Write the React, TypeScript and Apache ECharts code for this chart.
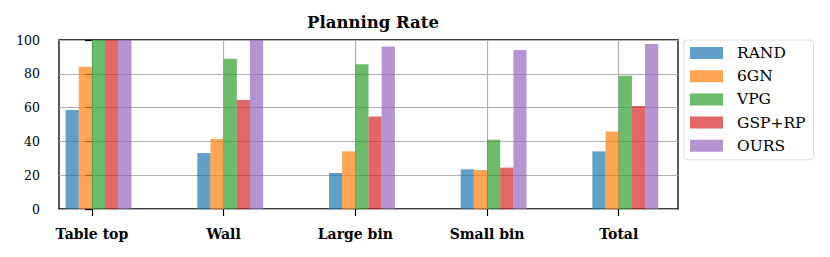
import React, { useEffect, useRef } from "react";
import * as echarts from "echarts";

const categories = ["Table top", "Wall", "Large bin", "Small bin", "Total"];
const methods = ["RAND", "6GN", "VPG", "GSP+RP", "OURS"];
const randValues = [58.6, 33.1, 21.3, 23.5, 34.1];
const sixGnValues = [84.2, 41.4, 34.1, 23.1, 45.8];
const vpgValues = [100, 88.9, 85.6, 41.0, 78.9];
const gspValues = [100, 64.5, 54.8, 24.5, 61.0];
const oursValues = [100, 100, 96.2, 94.1, 97.6];

const seriesValues = [randValues, sixGnValues, vpgValues, gspValues, oursValues];
const colors = ["#1f77b4", "#ff7f0e", "#2ca02c", "#d62728", "#9467bd"];
const FONT = "DejaVu Serif";

export default function App() {
  const ref = useRef<HTMLDivElement>(null);
  useEffect(() => {
    if (!ref.current) return;
    const chart = echarts.init(ref.current, null, { renderer: "svg" });
    const catIdx = categories.map((_, i) => i);
    chart.setOption({
      animation: false,
      backgroundColor: "#ffffff",
      title: {
        text: "Planning Rate",
        left: 368,
        textAlign: "center",
        top: 9,
        textStyle: { fontFamily: FONT, fontWeight: "bold", fontSize: 16.5, color: "#000" },
      },
      legend: {
        data: methods,
        orient: "vertical",
        left: 684,
        top: 40,
        padding: [5, 8, 6, 6],
        itemWidth: 33,
        itemHeight: 12,
        itemGap: 7.2,
        icon: "rect",
        itemStyle: { opacity: 0.7 },
        borderColor: "#dcdcdc",
        borderWidth: 1,
        borderRadius: 3,
        textStyle: {
          fontFamily: FONT,
          fontSize: 15.5,
          color: "#000",
          padding: [0, 0, 0, 9],
        },
      },
      grid: {
        left: 59,
        right: 152,
        top: 40,
        bottom: 48,
        show: true,
        borderColor: "#000",
        borderWidth: 1.3,
        containLabel: false,
      },
      xAxis: {
        type: "value",
        min: -0.25,
        max: 4.45,
        axisLine: { show: false },
        axisTick: {
          show: true,
          customValues: catIdx,
          length: 7,
          lineStyle: { color: "#000", width: 1.2 },
        },
        axisLabel: {
          customValues: catIdx,
          formatter: (v: number) => categories[Math.round(v)] ?? "",
          fontFamily: FONT,
          fontWeight: "bold",
          fontSize: 14,
          color: "#000",
          margin: 18,
        },
        splitLine: { show: true, lineStyle: { color: "#b0b0b0", width: 1.2 } },
      },
      yAxis: {
        type: "value",
        min: 0,
        max: 100,
        interval: 20,
        axisLine: { show: false },
        axisTick: { show: true, length: 7, lineStyle: { color: "#000", width: 1.2 } },
        axisLabel: {
          fontFamily: FONT,
          fontSize: 12.5,
          color: "#000",
          margin: 19,
        },
        splitLine: { show: true, lineStyle: { color: "#b0b0b0", width: 1.2 } },
      },
      series: methods.map((name, si) => ({
        name,
        type: "bar",
        barWidth: 13.2,
        barGap: "-100%",
        itemStyle: { color: colors[si], opacity: 0.7 },
        data: seriesValues[si].map((v, ci) => [ci - 0.15 + 0.1 * si, v]),
        z: 3,
      })),
    });
    return () => chart.dispose();
  }, []);
  return <div ref={ref} style={{ width: 830, height: 257, position: "absolute", left: 0, top: 0 }} />;
}
